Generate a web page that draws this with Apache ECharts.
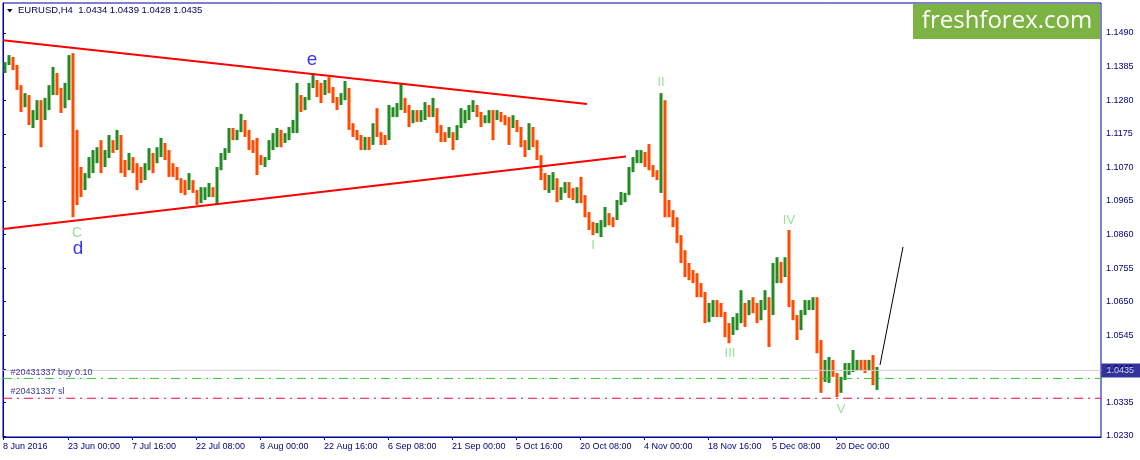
<!DOCTYPE html>
<html><head><meta charset="utf-8">
<script src="https://cdn.jsdelivr.net/npm/echarts@6/dist/echarts.min.js"></script>
<style>html,body{margin:0;padding:0;background:#fff}#c{width:1140px;height:460px}</style>
</head><body><div id="c"></div>
<script>
// ---- data (prices in 0.0001 units) ----
const symbolName = 'EURUSD,H4';
const lastOHLC = ['1.0434', '1.0439', '1.0428', '1.0435'];
const barsPerCandle = 4; // each drawn bar aggregates 4 H4 bars
const firstOpen = 11374;
const highs = [11399,11421,11415,11390,11327,11302,11296,11249,11280,11280,
11287,11327,11384,11365,11318,11334,11421,11427,11187,11071,
11052,11102,11124,11133,11155,11124,11171,11155,11187,11171,
11093,11115,11102,11083,11071,11083,11130,11115,11133,11162,
11146,11124,11083,11071,11036,11030,11052,11030,10999,11008,
11008,11021,11008,11071,11115,11130,11193,11193,11187,11237,
11218,11187,11155,11162,11108,11102,11155,11177,11193,11187,
11177,11196,11218,11334,11296,11290,11334,11365,11343,11334,
11343,11352,11321,11290,11302,11340,11318,11208,11187,11171,
11165,11165,11208,11255,11180,11171,11265,11258,11271,11334,
11287,11265,11249,11249,11249,11274,11265,11287,11255,11202,
11180,11196,11180,11202,11255,11249,11265,11280,11265,11243,
11233,11249,11249,11249,11243,11233,11227,11233,11218,11196,
11155,11208,11196,11155,11108,11052,11046,11055,11036,11008,
11024,11024,11005,11008,11040,10983,10930,10899,10896,10905,
10946,10927,10914,10968,10993,10990,11071,11102,11124,11124,
11118,11143,11077,11061,11302,11280,10968,10936,10914,10858,
10811,10771,10749,10739,10708,10680,10646,10655,10655,10646,
10618,10583,10602,10614,10686,10646,10655,10664,10646,10655,
10686,10664,10771,10789,10774,10789,10874,10655,10608,10624,
10655,10655,10664,10664,10530,10468,10477,10468,10427,10415,
10458,10458,10499,10468,10468,10468,10468,10483,10446];
const lows = [11365,11390,11374,11312,11243,11258,11202,11193,11218,11133,
11218,11249,11296,11296,11240,11255,11280,10914,10952,10977,
10999,11036,11052,11083,11052,11071,11099,11115,11124,11052,
11040,11061,11052,10999,11021,11030,11061,11052,11083,11102,
11093,11040,11040,11030,10990,10983,10999,10990,10952,10958,
10968,10977,10977,10952,11061,11093,11115,11155,11155,11180,
11165,11124,11115,11046,11077,11071,11093,11124,11133,11133,
11146,11155,11177,11177,11243,11249,11280,11318,11290,11271,
11296,11302,11271,11249,11265,11280,11187,11165,11155,11124,
11124,11124,11140,11165,11140,11140,11155,11227,11227,11249,
11240,11196,11208,11212,11212,11218,11227,11227,11177,11149,
11149,11162,11124,11155,11193,11208,11218,11243,11227,11196,
11208,11208,11155,11218,11212,11202,11140,11193,11180,11133,
11102,11124,11133,11093,11030,10999,10990,10999,10961,10968,
10990,10974,10968,10958,10958,10914,10874,10858,10864,10852,
10883,10889,10883,10905,10952,10961,10983,11055,11083,11083,
11071,11061,11040,11030,10990,10914,10914,10883,10833,10771,
10727,10717,10708,10664,10664,10583,10586,10602,10602,10602,
10539,10520,10546,10561,10583,10571,10608,10614,10583,10592,
10624,10508,10608,10708,10708,10727,10633,10592,10530,10561,
10608,10624,10624,10489,10365,10399,10396,10415,10352,10365,
10405,10421,10430,10436,10436,10427,10436,10389,10374];
const closes = [11399,11415,11387,11327,11280,11296,11218,11243,11265,11224,
11274,11312,11358,11312,11255,11287,11399,11124,11061,11015,
11036,11077,11093,11124,11093,11099,11155,11140,11171,11068,
11061,11099,11077,11055,11046,11061,11108,11093,11124,11140,
11124,11061,11055,11036,11015,11005,11030,10999,10968,10983,
10993,10999,10993,11061,11108,11124,11187,11171,11180,11218,
11187,11140,11124,11093,11087,11093,11140,11162,11171,11155,
11165,11187,11202,11296,11274,11280,11318,11343,11312,11296,
11327,11312,11280,11265,11290,11318,11202,11187,11165,11140,
11149,11140,11193,11180,11162,11155,11243,11243,11255,11280,
11265,11224,11233,11224,11233,11249,11243,11255,11202,11171,
11165,11180,11155,11196,11233,11233,11249,11265,11243,11218,
11224,11233,11224,11243,11224,11218,11202,11218,11193,11155,
11124,11193,11155,11108,11046,11024,11030,11036,10983,10993,
11005,10999,10983,10999,10983,10930,10889,10880,10880,10889,
10921,10911,10905,10952,10977,10983,11055,11093,11108,11118,
11093,11077,11055,11046,11280,10968,10936,10905,10858,10786,
10764,10742,10724,10686,10680,10608,10624,10639,10624,10618,
10561,10546,10577,10592,10639,10608,10639,10624,10608,10639,
10655,10608,10749,10774,10733,10786,10655,10608,10561,10608,
10639,10639,10655,10514,10421,10430,10452,10421,10389,10405,
10436,10443,10452,10458,10452,10449,10452,10405,10435];

const priceTicks = [1.0230,1.0335,1.0440,1.0545,1.0650,1.0755,1.0860,1.0965,1.1070,1.1175,1.1280,1.1385,1.1490];
const timeTickLabels = ['8 Jun 2016','23 Jun 00:00','7 Jul 16:00','22 Jul 08:00','8 Aug 00:00','22 Aug 16:00','6 Sep 08:00','21 Sep 00:00','5 Oct 16:00','20 Oct 08:00','4 Nov 00:00','18 Nov 16:00','5 Dec 08:00','20 Dec 00:00'];
const timeTickBars = [0,65,129,193,257,321,385,449,513,577,641,705,769,833]; // H4 bar number

const upperTrend = [[0,1.1467],[584,1.1268]];
const lowerTrend = [[0,1.0877],[623,1.1104]];
const projection = [[877,1.0452],[900,1.0821]];
const bidPrice = 1.0435;
const buyPrice = 1.0410;
const slPrice = 1.0348;
const orderBuyText = '#20431337 buy 0.10';
const orderSlText = '#20431337 sl';

const waveTexts  = ['e','C','d','I','II','III','IV','V'];
const waveBars   = [309,74,75,590,658,727,786,838];
const wavePrices = [1.1406,1.0864,1.0814,1.0827,1.1334,1.0489,1.0905,1.0314];
const waveKinds  = ['major','minor','major','minor','minor','minor','minor','minor'];

// ---- build ----
const GREEN = '#228b22', ORANGE = '#ff4a00', NAVY = '#000080', FRAME = '#0000a0';
const CLEAR = 'rgba(0,0,0,0)';
const XMAX = 1098, YMIN = 1.022687, YMAX = 1.158380;
const candles = highs.map((h, i) => {
  const o = i === 0 ? firstOpen : closes[i - 1];
  return [i * barsPerCandle + barsPerCandle / 2, o / 1e4, closes[i] / 1e4, lows[i] / 1e4, h / 1e4];
});

const chart = echarts.init(document.getElementById('c'), null, {renderer: 'canvas'});
const FONT = '"Liberation Sans", Arial, sans-serif';
const hLine = (p, color, type, w) => ({
  type: 'line', data: [[0, p], [XMAX, p]], symbol: 'none', silent: true, z: 3,
  lineStyle: {color, width: w || 1, type: type || 'solid'}
});
chart.setOption({
  animation: false,
  backgroundColor: '#ffffff',
  grid: {left: 3, right: 39, top: 3, bottom: 23, show: true, borderColor: FRAME, borderWidth: 1, backgroundColor: '#ffffff'},
  xAxis: {
    type: 'value', min: 0, max: XMAX, splitLine: {show: false},
    axisLine: {show: true, lineStyle: {color: FRAME, width: 1}},
    axisTick: {show: true, customValues: timeTickBars, length: 3, lineStyle: {color: FRAME}},
    axisLabel: {customValues: timeTickBars, align: 'left', margin: 5, color: NAVY, fontSize: 9, fontFamily: FONT,
      formatter: v => timeTickLabels[timeTickBars.indexOf(v)] || ''}
  },
  yAxis: {
    type: 'value', position: 'right', min: YMIN, max: YMAX, scale: true, splitLine: {show: false},
    axisLine: {show: true, lineStyle: {color: FRAME, width: 1}},
    axisTick: {show: true, customValues: priceTicks, length: 3, lineStyle: {color: FRAME}},
    axisLabel: {customValues: priceTicks, margin: 5, color: NAVY, fontSize: 9, fontFamily: FONT,
      formatter: v => v.toFixed(4)}
  },
  graphic: [
    {type: 'polygon', shape: {points: [[7, 9], [12.5, 9], [9.75, 12.5]]}, style: {fill: '#000050'}, z: 50},
    {type: 'text', x: 18, y: 5, style: {text: symbolName + '  ' + lastOHLC.join(' '), fill: '#000060', font: '9.5px ' + FONT}, z: 50},
    {type: 'rect', shape: {x: 913, y: 4, width: 187, height: 35}, style: {fill: '#7cb342'}, z: 50},
    {type: 'text', x: 1007, y: 21.5, style: {text: 'freshforex.com', fill: '#ffffff', font: '24px "Open Sans", sans-serif', align: 'center', verticalAlign: 'middle'}, z: 51}
  ],
  series: [
    {
      type: 'custom', silent: true, z: 2, clip: true,
      encode: {x: 0, y: [1, 2, 3, 4]},
      data: candles,
      renderItem: (params, api) => {
        const x = api.value(0), o = api.value(1), c = api.value(2), l = api.value(3), h = api.value(4);
        const pH = api.coord([x, h]), pL = api.coord([x, l]);
        const w = api.size([barsPerCandle, 0])[0] * 0.75;
        return {type: 'rect', shape: {x: pH[0] - w / 2, y: pH[1], width: w, height: Math.max(1, pL[1] - pH[1])},
          style: {fill: c >= o ? GREEN : ORANGE}};
      }
    },
    hLine(bidPrice, '#cfcfcf'),
    hLine(buyPrice, '#2ecc2e', [9, 5, 2, 5]),
    hLine(slPrice, '#e0103c', [9, 5, 2, 5]),
    {type: 'line', data: upperTrend, symbol: 'none', silent: true, z: 4, lineStyle: {color: '#ff0000', width: 2}},
    {type: 'line', data: lowerTrend, symbol: 'none', silent: true, z: 4, lineStyle: {color: '#ff0000', width: 2}},
    {type: 'line', data: projection, symbol: 'none', silent: true, z: 4, lineStyle: {color: '#000000', width: 1}},
    {
      type: 'scatter', silent: true, z: 5, symbolSize: 1, itemStyle: {color: CLEAR},
      data: waveTexts.map((t, i) => ({
        value: [waveBars[i], wavePrices[i]],
        label: {show: true, position: 'inside', formatter: t,
          color: waveKinds[i] === 'major' ? '#0000ff' : '#80d880',
          fontSize: waveKinds[i] === 'major' ? 19 : (t === 'C' ? 14 : 13), fontFamily: FONT}
      }))
    },
    {
      type: 'scatter', silent: true, z: 5, symbolSize: 1, itemStyle: {color: CLEAR},
      data: [
        {value: [7, buyPrice], label: {show: true, position: 'right', distance: 0, offset: [0, -6], formatter: orderBuyText}},
        {value: [7, slPrice], label: {show: true, position: 'right', distance: 0, offset: [0, -7], formatter: orderSlText}}
      ],
      label: {color: NAVY, fontSize: 9, fontFamily: FONT}
    },
    {
      type: 'scatter', silent: true, z: 20, clip: false, symbolSize: 1, itemStyle: {color: CLEAR},
      data: [{value: [XMAX, bidPrice]}],
      label: {show: true, position: 'right', distance: 0, formatter: bidPrice.toFixed(4),
        backgroundColor: NAVY, color: '#ffffff', fontSize: 9, fontFamily: FONT, lineHeight: 10, padding: [2, 6, 2, 5]}
    }
  ]
});
</script></body></html>
